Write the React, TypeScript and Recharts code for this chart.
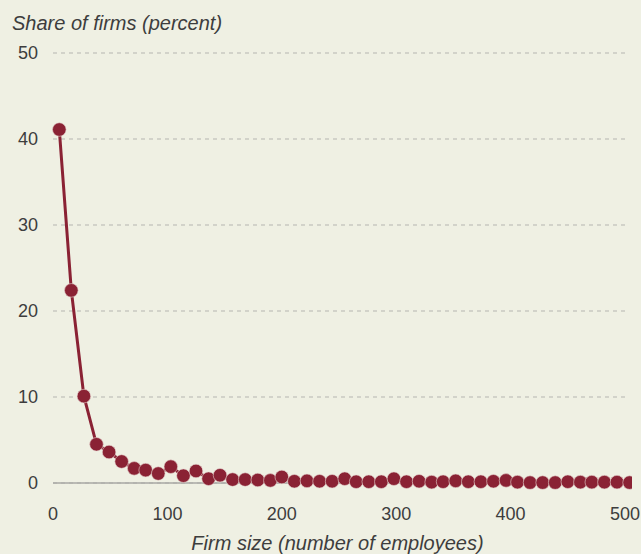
import { LineChart, Line, XAxis, YAxis, CartesianGrid } from 'recharts';

// firm size (employees), bin midpoints
const firmSize = [
  5.5, 16, 27, 38, 49, 60, 71, 81, 92, 103, 114, 125, 136, 146, 157, 168,
  179, 190, 200, 211, 222, 233, 244, 255, 265, 276, 287, 298, 309, 320, 331,
  341, 352, 363, 374, 385, 396, 406, 417, 428, 439, 450, 461, 471, 482, 493,
  504,
];

// share of firms, percent
const shareOfFirms = [
  41.1, 22.4, 10.1, 4.5, 3.6, 2.5, 1.7, 1.5, 1.1, 1.9, 0.85, 1.4, 0.5, 0.9,
  0.4, 0.4, 0.35, 0.3, 0.7, 0.2, 0.25, 0.2, 0.2, 0.5, 0.15, 0.15, 0.15, 0.5,
  0.15, 0.2, 0.1, 0.15, 0.25, 0.15, 0.15, 0.2, 0.3, 0.1, 0.05, 0.05, 0.05,
  0.15, 0.1, 0.1, 0.1, 0.1, 0.05,
];

const xTicks = [0, 100, 200, 300, 400, 500];
const yTicks = [0, 10, 20, 30, 40, 50];

const data = firmSize.map((size, i) => ({ size, share: shareOfFirms[i] }));

const BG = '#eff0e3';
const RED = '#8a2234';
const TEXT = '#3d3d3d';
const FONT = '"Liberation Sans", Arial, sans-serif';

const App = () => {
  return (
    <div
      style={{
        position: 'fixed',
        left: 0,
        top: 0,
        width: 641,
        height: 554,
        background: BG,
        fontFamily: FONT,
        color: TEXT,
      }}>
      <div
        style={{
          position: 'absolute',
          left: 12,
          top: 12,
          fontSize: 20,
          lineHeight: '22px',
          fontStyle: 'italic',
          whiteSpace: 'nowrap',
        }}>
        Share of firms (percent)
      </div>
      <div
        style={{
          position: 'absolute',
          left: 0,
          width: 675,
          top: 532,
          fontSize: 20,
          lineHeight: '22px',
          fontStyle: 'italic',
          textAlign: 'center',
          whiteSpace: 'nowrap',
        }}>
        Firm size (number of employees)
      </div>
      <LineChart
        width={641}
        height={554}
        data={data}
        margin={{ top: 53, right: 16, bottom: 0, left: 0 }}>
        <CartesianGrid
          vertical={false}
          stroke="#b5b5b0"
          strokeDasharray="4 4"
        />
        <XAxis
          dataKey="size"
          type="number"
          domain={[0, 500]}
          ticks={xTicks}
          allowDataOverflow
          height={71}
          tickLine={false}
          tickSize={6}
          tickMargin={18}
          axisLine={{ stroke: '#a8a8a4', strokeWidth: 1.5 }}
          tick={{ fill: TEXT, fontSize: 18, fontFamily: FONT }}
        />
        <YAxis
          type="number"
          domain={[0, 50]}
          ticks={yTicks}
          width={53}
          tickLine={false}
          axisLine={false}
          tickSize={6}
          tickMargin={9}
          tick={{ fill: TEXT, fontSize: 18, fontFamily: FONT }}
        />
        <Line
          type="linear"
          dataKey="share"
          stroke={RED}
          strokeWidth={3}
          dot={{ r: 6.8, fill: RED, stroke: '#e8d6d2', strokeWidth: 0.6, clipDot: false }}
          activeDot={false}
          isAnimationActive={false}
        />
      </LineChart>
    </div>
  );
};

export default App;
